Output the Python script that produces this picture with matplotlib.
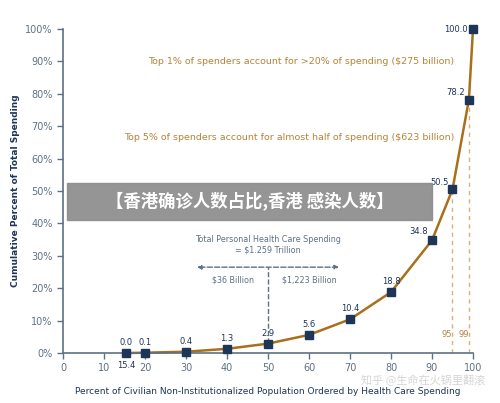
import matplotlib
matplotlib.use("Agg")
import matplotlib.pyplot as plt

x = [15.4, 20, 30, 40, 50, 60, 70, 80, 90, 95, 99, 100]
y = [0.0, 0.1, 0.4, 1.3, 2.9, 5.6, 10.4, 18.8, 34.8, 50.5, 78.2, 100.0]
labels = ["0.0", "0.1", "0.4", "1.3", "2.9", "5.6", "10.4", "18.8", "34.8", "50.5", "78.2", "100.0"]
xticks = [0, 10, 20, 30, 40, 50, 60, 70, 80, 90, 100]
yticks = [0, 10, 20, 30, 40, 50, 60, 70, 80, 90, 100]

axc = "#5d7184"
gold = "#b4843a"
navy = "#1d3557"
fig = plt.figure(figsize=(5, 4.03), dpi=100)
ax = fig.add_axes([0.126, 0.124, 0.82, 0.804])
ax.plot(x, y, color="#a86f1c", lw=1.8, zorder=2, clip_on=False)
ax.plot(x, y, "s", color=navy, ms=5.5, zorder=3, clip_on=False)
for xi, yi, l in zip(x, y, labels):
    if xi == 15.4:
        ax.text(xi, yi + 2.5, l, ha="center", fontsize=6, color=navy)
        ax.text(xi, yi - 2.5, "15.4", ha="center", va="top", fontsize=6, color=navy)
    elif xi == 100:
        ax.text(xi - 1.2, yi, l, ha="right", va="center", fontsize=6, color=navy)
    elif xi >= 95:
        ax.text(xi - 1, yi + 1.5, l, ha="right", fontsize=6, color=navy)
    elif xi == 90:
        ax.text(xi - 1, yi + 2, l, ha="right", fontsize=6, color=navy)
    else:
        ax.text(xi, yi + 2.5, l, ha="center", fontsize=6, color=navy)
ax.set_xlim(0, 100)
ax.set_ylim(0, 100)
ax.set_xticks(xticks)
ax.set_yticks(yticks)
ax.set_yticklabels([f"{t}%" for t in yticks])
ax.tick_params(colors=axc, labelsize=7, length=4, width=1)
for s in ["top", "right"]:
    ax.spines[s].set_visible(False)
for s in ["left", "bottom"]:
    ax.spines[s].set_color(axc)
    ax.spines[s].set_linewidth(1.2)
ax.set_xlabel("Percent of Civilian Non-Institutionalized Population Ordered by Health Care Spending",
              fontsize=6.5, color=navy, labelpad=10)
ax.set_ylabel("Cumulative Percent of Total Spending", fontsize=6.5, color=navy, fontweight="bold")
ax.vlines([95, 99], 0, [y[9], y[10]], colors="#d8b078", linestyles=(0, (3, 3)), lw=1)
ax.text(95, 5, "95", ha="right", fontsize=6, color=gold)
ax.text(99, 5, "99", ha="right", fontsize=6, color=gold)
ax.text(95.5, 90, "Top 1% of spenders account for >20% of spending ($275 billion)", ha="right",
        va="center", fontsize=6.8, color=gold)
ax.text(95.5, 66.5, "Top 5% of spenders account for almost half of spending ($623 billion)", ha="right",
        va="center", fontsize=6.8, color=gold)
ax.text(50, 33.5, "Total Personal Health Care Spending\n= $1.259 Trillion", ha="center", va="center",
        fontsize=5.8, color=axc)
ax.annotate("", xy=(32, 26.5), xytext=(68, 26.5),
            arrowprops=dict(arrowstyle="<|-|>", color=axc, ls="--", lw=1, mutation_scale=6))
ax.vlines(50, 3, 26.5, colors=axc, linestyles="--", lw=1)
ax.text(41.5, 24, "$36 Billion", ha="center", va="top", fontsize=5.8, color=axc)
ax.text(60, 24, "$1,223 Billion", ha="center", va="top", fontsize=5.8, color=axc)

fig.patches.append(plt.Rectangle((0.134, 0.455), 0.73, 0.092, transform=fig.transFigure,
                                 color="#8c8c8c", alpha=0.92, zorder=10))
fig.text(0.5, 0.501, "【香港确诊人数占比,香港 感染人数】", ha="center", va="center", fontsize=12.5,
         color="white", fontweight="bold", family=["Noto Sans CJK SC", "DejaVu Sans"], zorder=11)
fig.text(0.97, 0.057, "知乎 @生命在火锅里翻滚", ha="right", va="center", fontsize=8,
         color="#d0d0d0", alpha=0.9, family=["Noto Sans CJK SC", "DejaVu Sans"], zorder=11)
fig.savefig("out.png", dpi=100)
